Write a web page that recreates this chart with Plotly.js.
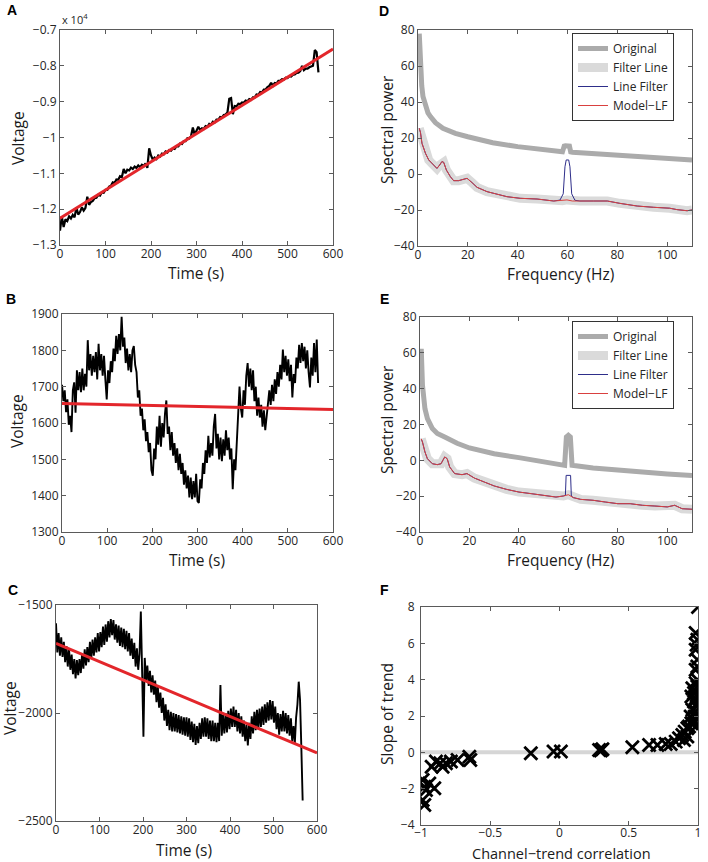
<!DOCTYPE html>
<html>
<head>
<meta charset="utf-8">
<script src="https://cdn.plot.ly/plotly-3.0.1.min.js"></script>
<style>
  html, body { margin: 0; padding: 0; background: #fff; }
  #chart { width: 708px; height: 862px; }
</style>
</head>
<body>
<div id="chart"></div>
<script>
// ---------------- DATA ----------------
// Panel A: voltage trace sampled every 4 s, linear fit
const stepA = 4;
const voltA = [
  -12600,-12200,-12500,-12280,-12330,-12200,-12260,-12160,-12230,-11950,
  -12150,-12080,-11950,-12040,-11960,-11650,-11880,-11800,-11770,-11690,
  -11680,-11600,-11620,-11530,-11540,-11460,-11460,-11370,-11350,-11250,
  -11270,-11170,-11180,-11080,-11100,-10880,-11000,-10900,-10920,-10840,
  -10880,-10810,-10850,-10780,-10830,-10760,-10800,-10720,-10850,-10300,
  -10500,-10620,-10560,-10600,-10500,-10530,-10450,-10470,-10390,-10420,
  -10350,-10370,-10300,-10320,-10250,-10250,-10170,-10180,-10100,-10100,
  -10020,-10030,-9960,-9720,-9920,-9830,-9700,-9790,-9740,-9760,
  -9680,-9700,-9620,-9640,-9560,-9580,-9500,-9500,-9430,-9440,
  -9370,-9360,-9300,-8920,-8900,-9350,-9120,-9130,-9060,-9070,
  -9020,-9030,-8970,-8990,-8930,-8950,-8880,-8880,-8800,-8810,
  -8730,-8740,-8660,-8660,-8590,-8560,-8470,-8560,-8480,-8490,
  -8420,-8420,-8370,-8380,-8330,-8340,-8290,-8300,-8250,-8240,
  -8200,-8190,-8150,-8000,-8120,-8080,-8080,-8040,-8020,-8000,
  -7560,-7620,-8180
];
const fitTime = [0, 600];
const fitA = [-12256, -7530];
const tickValsA = [-13000,-12000,-11000,-10000,-9000,-8000,-7000];
const tickTextA = ["−1.3","−1.2","−1.1","−1","−0.9","−0.8","−0.7"];

// Panel B: voltage trace sampled every 3 s, linear fit
const stepB = 3;
const voltB = [
  1705,1660,1690,1630,1665,1595,1620,1575,1690,1712,
  1628,1745,1690,1740,1685,1750,1690,1735,1700,1828,
  1745,1790,1730,1785,1740,1795,1720,1818,1745,1790,
  1730,1785,1720,1665,1745,1710,1770,1740,1805,1770,
  1840,1790,1845,1800,1892,1810,1835,1765,1805,1745,
  1790,1740,1800,1812,1760,1740,1670,1690,1620,1640,
  1580,1610,1550,1575,1520,1545,1470,1455,1530,1500,
  1590,1540,1620,1535,1600,1560,1625,1662,1570,1590,
  1525,1575,1510,1545,1490,1530,1470,1515,1460,1490,
  1430,1470,1420,1455,1395,1450,1390,1440,1395,1460,
  1385,1380,1445,1420,1490,1460,1525,1490,1565,1505,
  1545,1510,1590,1625,1530,1570,1500,1560,1495,1555,
  1510,1580,1525,1560,1500,1530,1418,1500,1470,1545,
  1600,1700,1640,1615,1690,1650,1730,1765,1700,1750,
  1690,1745,1660,1700,1620,1670,1615,1650,1590,1635,
  1580,1620,1640,1690,1650,1705,1660,1720,1680,1740,
  1700,1760,1720,1802,1740,1785,1730,1775,1715,1760,
  1670,1735,1710,1780,1750,1815,1765,1820,1770,1810,
  1750,1800,1740,1698,1780,1730,1820,1740,1830,1710
];
const fitB = [1654, 1637];

// Panel C: voltage trace sampled every 3 s, linear fit
const stepC = 3;
const voltC = [
  -1585,-1720,-1630,-1735,-1650,-1740,-1670,-1765,-1690,-1785,
  -1705,-1800,-1730,-1820,-1750,-1840,-1755,-1825,-1750,-1815,
  -1725,-1795,-1705,-1780,-1695,-1765,-1670,-1750,-1660,-1735,
  -1650,-1720,-1630,-1715,-1625,-1695,-1600,-1685,-1590,-1670,
  -1575,-1650,-1565,-1640,-1570,-1660,-1590,-1675,-1595,-1690,
  -1605,-1695,-1610,-1705,-1620,-1715,-1630,-1735,-1655,-1750,
  -1675,-1785,-1700,-1800,-1725,-1530,-1810,-2110,-1745,-1850,
  -1780,-1875,-1805,-1905,-1825,-1915,-1850,-1950,-1875,-1975,
  -1905,-2000,-1930,-2035,-1960,-2060,-1985,-2080,-1995,-2085,
  -2000,-2085,-2005,-2090,-2010,-2095,-2015,-2100,-2020,-2105,
  -2020,-2110,-2025,-2125,-2040,-2135,-2050,-2148,-2060,-2140,
  -2045,-2120,-2025,-2110,-2020,-2110,-2025,-2120,-2035,-2130,
  -2035,-2130,-2045,-2135,-2045,-2130,-1870,-2105,-2010,-2095,
  -2000,-2090,-1990,-2075,-1980,-2065,-1970,-2065,-1985,-2085,
  -2000,-2095,-2015,-2110,-2035,-2130,-2055,-2150,-2045,-2120,
  -2015,-2095,-1995,-2080,-1985,-2075,-1980,-2065,-1970,-2055,
  -1960,-2045,-1950,-2035,-1940,-2030,-1945,-2045,-1970,-2075,
  -2000,-2100,-2005,-2085,-1990,-2085,-2000,-2095,-2010,-2105,
  -2025,-2130,-2060,-2140,-2020,-1960,-1855,-1940,-2160,-2405
];
const fitC = [-1678, -2185];

// Panel D: spectra
const freqOrigD = [0.5,1,1.5,2,3,4,5,7,10,15,20,25,30,40,50,58,58.7,59.2,60.8,61.3,62,70,80,90,100,110];
const powOrigD  = [78,59.6,49,43,37.4,34,31.9,28.5,25.4,22.6,20.7,19,17.4,15.2,13.7,12.4,15.5,15.7,15.5,12.3,12.1,11.3,10.2,9.3,8.5,7.8];
const freqModelD = [0.5,1,1.6,2.3,3,4.3,5.5,6.3,7.6,8.7,9.6,10.3,11.4,13,14.3,16.3,18.3,19.7,21.7,23.7,27.7,31.7,35.7,41,47.8,54.5,58,59.8,62,65,70.5,76,81,88,94.6,101,104,108,110];
const powModelD  = [25.4,23,17,14,11.5,7.8,6,5,3.1,5,6.9,6.5,2.2,-1.5,-3.7,-3.7,-3,-2.4,-4.8,-7.4,-9.8,-11.1,-12.6,-13.5,-13.9,-15,-14.8,-14.4,-15,-15,-15,-15,-16.3,-17.8,-18.5,-19,-19.8,-20.4,-20];
const freqLineD = [0.5,1,1.6,2.3,3,4.3,5.5,6.3,7.6,8.7,9.6,10.3,11.4,13,14.3,16.3,18.3,19.7,21.7,23.7,27.7,31.7,35.7,41,47.8,54.5,57,58.3,59,59.5,60.5,61,61.7,63,65,70.5,76,81,88,94.6,101,104,108,110];
const powLineD  = [25.4,23,17,14,11.5,7.8,6,5,3.1,5,6.9,6.5,2.2,-1.5,-3.7,-3.7,-3,-2.4,-4.8,-7.4,-9.8,-11.1,-12.6,-13.5,-13.9,-15,-14.5,-11,4,7.8,7.8,4,-11,-14.6,-15,-15,-15,-16.3,-17.8,-18.5,-19,-19.8,-20.4,-20];

// Panel E: spectra
const freqOrigE = [0.5,1,2,3,5,7,10,15,20,30,40,50,58.5,59.2,60,60.8,61.5,70,80,90,100,110];
const powOrigE  = [62.3,41.9,28.8,23.3,17.7,15,13,9.5,6.9,3.7,1.5,-0.9,-2.8,13,14,13,-2.8,-4.3,-5.6,-6.9,-7.6,-8.4];
const freqModelE = [0.5,1,2,3,5,7,8.5,10,11,12,14,17,19,22,26,30,35,40,45,50,55,58,60,62,65,70,75,80,85,90,95,100,103,106,110];
const powModelE  = [12,10.2,4.7,0.9,-1.9,-2.4,-1.9,1.9,0.9,-3.7,-7.4,-8,-7.4,-9.9,-12.1,-14.3,-16.2,-17.7,-18.6,-19.5,-20.5,-19.9,-19.2,-20.8,-21.8,-22.3,-23.3,-24.2,-24.2,-25.1,-25.5,-26,-25.1,-27,-27.3];
const freqLineE = [0.5,1,2,3,5,7,8.5,10,11,12,14,17,19,22,26,30,35,40,45,50,55,58,58.8,59.1,60.9,61.2,62,65,70,75,80,85,90,95,100,103,106,110];
const powLineE  = [12,10.2,4.7,0.9,-1.9,-2.4,-1.9,1.9,0.9,-3.7,-7.4,-8,-7.4,-9.9,-12.1,-14.3,-16.2,-17.7,-18.6,-19.5,-20.5,-19.9,-19.5,-8.4,-8.4,-20,-20.8,-21.8,-22.3,-23.3,-24.2,-24.2,-25.1,-25.5,-26,-25.1,-27,-27.3];

const legendNames = ["Original", "Filter Line", "Line Filter", "Model−LF"];

// Panel F: channel-trend correlation vs slope
const corrF = [-0.988,-0.976,-0.988,-0.976,-0.940,-0.964,-0.904,-0.923,-0.892,-0.861,
  -0.844,-0.820,-0.784,-0.736,-0.651,-0.644,-0.207,-0.043,0.010,0.286,
  0.310,0.298,0.526,0.647,0.707,0.767,0.803,0.839,0.863,0.887,
  0.904,0.923,0.935,0.952,0.966,0.976,0.983,0.990,0.995,0.971,
  0.952,0.959,0.983,0.995,0.971,0.995,0.983,0.995,0.983,0.990,
  0.995,0.983,1.0,0.947,0.959,0.971,0.983,0.923,0.899,0.995,
  0.995,0.983];
const slopeF = [-1.52,-1.89,-2.63,-2.90,-1.71,-2.07,-1.98,-0.79,-0.51,-0.60,
  -0.79,-0.60,-0.51,-0.42,-0.24,-0.42,-0.05,0.04,0.04,0.13,
  0.17,0.10,0.28,0.41,0.41,0.46,0.46,0.59,0.78,0.96,
  1.14,1.33,1.42,1.60,1.79,1.97,2.25,2.52,2.71,2.80,
  3.07,3.53,3.81,3.99,3.26,4.73,4.54,5.10,5.65,5.92,
  6.20,6.57,8.0,1.97,2.34,1.60,1.42,0.87,0.68,1.88,
  3.62,2.98];
const zeroLineX = [-1, 1];
const zeroLineY = [0, 0];

// ---------------- BUILD ----------------
const timesA = voltA.map((v, i) => i * stepA);
const timesB = voltB.map((v, i) => i * stepB);
const timesC = voltC.map((v, i) => i * stepC);

const RED = '#e3262b';
const traceBlack = '#000000';
const ORIG = '#ababab';
const HALO = '#dadada';
const NAVY = '#2e2e8a';
const MODEL = '#d9403f';

const traces = [
  {x: timesA, y: voltA, xaxis:'x', yaxis:'y', mode:'lines', line:{color:traceBlack, width:2.2}, showlegend:false},
  {x: fitTime, y: fitA, xaxis:'x', yaxis:'y', mode:'lines', line:{color:RED, width:3}, showlegend:false},

  {x: timesB, y: voltB, xaxis:'x3', yaxis:'y3', mode:'lines', line:{color:traceBlack, width:1.9}, showlegend:false},
  {x: fitTime, y: fitB, xaxis:'x3', yaxis:'y3', mode:'lines', line:{color:RED, width:3}, showlegend:false},

  {x: timesC, y: voltC, xaxis:'x5', yaxis:'y5', mode:'lines', line:{color:traceBlack, width:1.9}, showlegend:false},
  {x: fitTime, y: fitC, xaxis:'x5', yaxis:'y5', mode:'lines', line:{color:RED, width:3}, showlegend:false},

  {x: freqOrigD, y: powOrigD, xaxis:'x2', yaxis:'y2', mode:'lines', name:legendNames[0], line:{color:ORIG, width:5}, legend:'legend'},
  {x: freqModelD, y: powModelD, xaxis:'x2', yaxis:'y2', mode:'lines', name:legendNames[1], line:{color:HALO, width:9}, legend:'legend'},
  {x: freqLineD, y: powLineD, xaxis:'x2', yaxis:'y2', mode:'lines', name:legendNames[2], line:{color:NAVY, width:1}, legend:'legend'},
  {x: freqModelD, y: powModelD, xaxis:'x2', yaxis:'y2', mode:'lines', name:legendNames[3], line:{color:MODEL, width:1}, legend:'legend'},

  {x: freqOrigE, y: powOrigE, xaxis:'x4', yaxis:'y4', mode:'lines', name:legendNames[0], line:{color:ORIG, width:5}, legend:'legend2'},
  {x: freqModelE, y: powModelE, xaxis:'x4', yaxis:'y4', mode:'lines', name:legendNames[1], line:{color:HALO, width:9}, legend:'legend2'},
  {x: freqLineE, y: powLineE, xaxis:'x4', yaxis:'y4', mode:'lines', name:legendNames[2], line:{color:NAVY, width:1}, legend:'legend2'},
  {x: freqModelE, y: powModelE, xaxis:'x4', yaxis:'y4', mode:'lines', name:legendNames[3], line:{color:MODEL, width:1}, legend:'legend2'},

  {x: zeroLineX, y: zeroLineY, xaxis:'x6', yaxis:'y6', mode:'lines', line:{color:'#d6d6d6', width:4}, showlegend:false},
  {x: corrF, y: slopeF, xaxis:'x6', yaxis:'y6', mode:'markers', showlegend:false,
   marker:{symbol:'x-thin-open', size:13, color:'#000', line:{color:'#000', width:2.8}}}
];

const FONT = 'Open Sans, Arial, sans-serif';
const W = 708, H = 862;
function ax(extra) {
  return Object.assign({
    showline: true, mirror: 'ticks', linecolor: '#5a5a5a', linewidth: 1,
    ticks: 'inside', ticklen: 4, tickcolor: '#5a5a5a', tickwidth: 1,
    showgrid: false, zeroline: false, fixedrange: true,
    tickfont: {family: FONT, size: 12, color: '#262626'}
  }, extra);
}
function xax(extra) { return ax(Object.assign({ticklabelstandoff: -2}, extra)); }
function px(x0, x1) { return [x0 / W, x1 / W]; }
function py(top, bottom) { return [1 - bottom / H, 1 - top / H]; }

const legendStyle = {
  xanchor: 'left', yanchor: 'top',
  bgcolor: '#fff', bordercolor: '#333', borderwidth: 1,
  font: {family: FONT, size: 12, color: '#262626'}, tracegroupgap: 0
};

const layout = {
  width: W, height: H,
  margin: {l: 0, r: 0, t: 0, b: 0},
  paper_bgcolor: '#fff', plot_bgcolor: '#fff',
  font: {family: FONT, color: '#262626'},
  hovermode: false,
  xaxis:  xax({domain: px(60, 333), anchor: 'y', range: [0, 600], dtick: 100}),
  yaxis:  ax({domain: py(30, 245), anchor: 'x', range: [-13000, -7000], tickvals: tickValsA, ticktext: tickTextA}),
  xaxis2: xax({domain: px(418, 692), anchor: 'y2', range: [0, 110], dtick: 20}),
  yaxis2: ax({domain: py(30, 246), anchor: 'x2', range: [-40, 80], dtick: 20}),
  xaxis3: xax({domain: px(62, 333), anchor: 'y3', range: [0, 600], dtick: 100}),
  yaxis3: ax({domain: py(314, 532), anchor: 'x3', range: [1300, 1900], dtick: 100}),
  xaxis4: xax({domain: px(420, 692), anchor: 'y4', range: [0, 110], dtick: 20}),
  yaxis4: ax({domain: py(317, 532), anchor: 'x4', range: [-40, 80], dtick: 20}),
  xaxis5: xax({domain: px(56, 317), anchor: 'y5', range: [0, 600], dtick: 100}),
  yaxis5: ax({domain: py(605, 821), anchor: 'x5', range: [-2500, -1500], dtick: 500}),
  xaxis6: xax({domain: px(421, 698), anchor: 'y6', range: [-1, 1], dtick: 0.5, ticklabelstandoff: -3}),
  yaxis6: ax({domain: py(607, 825), anchor: 'x6', range: [-4, 8], dtick: 2, ticklabelstandoff: 3}),
  legend:  Object.assign({x: 572 / W, y: 1 - 33 / H}, legendStyle),
  legend2: Object.assign({x: 572 / W, y: 1 - 321 / H}, legendStyle),
  annotations: []
};

function label(text, x, y, opts) {
  layout.annotations.push(Object.assign({
    text: text, x: x / W, y: 1 - y / H, xref: 'paper', yref: 'paper',
    xanchor: 'center', yanchor: 'middle', showarrow: false,
    font: {family: FONT, size: 15.5, color: '#1a1a1a'}
  }, opts || {}));
}
// panel letters
const letterFont = {family: 'Liberation Sans, Arial, sans-serif', size: 14, color: '#000'};
label('<b>A</b>', 12, 10, {font: letterFont});
label('<b>D</b>', 384, 11, {font: letterFont});
label('<b>B</b>', 11, 299, {font: letterFont});
label('<b>E</b>', 384, 299, {font: letterFont});
label('<b>C</b>', 13, 590, {font: letterFont});
label('<b>F</b>', 384, 590, {font: letterFont});
// exponent
label('x 10<sup>4</sup>', 60, 19, {xanchor: 'left', font: {family: FONT, size: 11, color: '#262626'}});
// axis titles
label('Voltage', 18, 138, {textangle: -90});
label('Time (s)', 196, 273);
label('Voltage', 17, 421, {textangle: -90});
label('Time (s)', 197, 560);
label('Voltage', 10, 708, {textangle: -90});
label('Time (s)', 184, 850);
label('Spectral power', 387, 130, {textangle: -90});
label('Frequency (Hz)', 560, 274);
label('Spectral power', 387, 420, {textangle: -90});
label('Frequency (Hz)', 560, 560);
label('Slope of trend', 387, 714, {textangle: -90});
label('Channel−trend correlation', 561, 853, {font: {family: FONT, size: 14.5, color: '#1a1a1a'}});

Plotly.newPlot('chart', traces, layout, {staticPlot: true, displayModeBar: false});
</script>
</body>
</html>
